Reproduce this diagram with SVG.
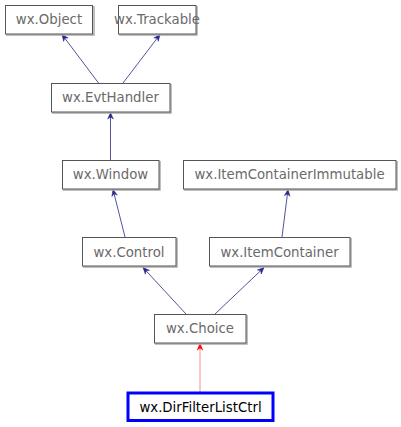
<svg xmlns="http://www.w3.org/2000/svg" width="401" height="427" viewBox="0 0 401 427">
<style>
.box{fill:#fff;stroke:#555;stroke-width:1}
.sh{fill:none;stroke:#aaa;stroke-width:1.5}
.t{font-family:"DejaVu Sans",sans-serif;font-size:13.3px;fill:#6a6a6a;text-anchor:middle}
.e{stroke:#26268c;stroke-width:0.8;fill:none;marker-end:url(#a)}
.r{stroke:#ff8c8c;stroke-width:1;fill:none;marker-end:url(#ar)}
</style>
<defs>
<marker id="a" markerUnits="userSpaceOnUse" markerWidth="10" markerHeight="10" viewBox="0 0 10 10" refX="9" refY="5" orient="auto">
<path d="M2.5,2.2 L9,5 L2.5,7.8 L4.5,5 z" fill="#26268c" stroke="#26268c" stroke-width="0.5"/>
</marker>
<marker id="ar" markerUnits="userSpaceOnUse" markerWidth="10" markerHeight="10" viewBox="0 0 10 10" refX="9" refY="5" orient="auto">
<path d="M2.5,2.2 L9,5 L2.5,7.8 L4.5,5 z" fill="red" stroke="red" stroke-width="0.5"/>
</marker>
</defs>
<g id="edges">
<line class="e" x1="98.5" y1="83" x2="62" y2="34.5"/>
<line class="e" x1="123" y1="83" x2="160" y2="34.5"/>
<line class="e" x1="110.5" y1="160" x2="110.5" y2="112.5"/>
<line class="e" x1="125" y1="237" x2="113" y2="189.5"/>
<line class="e" x1="282" y1="237" x2="288" y2="189.5"/>
<line class="e" x1="186" y1="314" x2="143" y2="267.5"/>
<line class="e" x1="215" y1="314" x2="264" y2="267.5"/>
<line class="r" x1="200" y1="392" x2="200" y2="343.5"/>
</g>
<g id="n-object">
<polyline class="sh" points="94,6 94,35 6,35"/>
<rect class="box" x="5.5" y="5.5" width="87" height="28.5"/>
<text class="t" x="49" y="24.3">wx.Object</text>
</g>
<g id="n-trackable">
<polyline class="sh" points="197,6 197,35 119,35"/>
<rect class="box" x="118.5" y="5.5" width="77.5" height="28.5"/>
<text class="t" x="157" y="24.3">wx.Trackable</text>
</g>
<g id="n-evthandler">
<polyline class="sh" points="171,84 171,113 52,113"/>
<rect class="box" x="51.5" y="83.5" width="118.5" height="28.5"/>
<text class="t" x="110.5" y="102.3">wx.EvtHandler</text>
</g>
<g id="n-window">
<polyline class="sh" points="160,161 160,190 63,190"/>
<rect class="box" x="62.5" y="160.5" width="96.5" height="28.5"/>
<text class="t" x="110.5" y="179.3">wx.Window</text>
</g>
<g id="n-immutable">
<polyline class="sh" points="397,161 397,190 184,190"/>
<rect class="box" x="183.5" y="160.5" width="212.5" height="28.5"/>
<text class="t" x="289.5" y="179.3">wx.ItemContainerImmutable</text>
</g>
<g id="n-control">
<polyline class="sh" points="177,238 177,267 83,267"/>
<rect class="box" x="82.5" y="237.5" width="93.5" height="28.5"/>
<text class="t" x="129" y="256.8">wx.Control</text>
</g>
<g id="n-itemcontainer">
<polyline class="sh" points="351,238 351,267 210,267"/>
<rect class="box" x="209.5" y="237.5" width="140.5" height="28.5"/>
<text class="t" x="279.5" y="256.8">wx.ItemContainer</text>
</g>
<g id="n-choice">
<polyline class="sh" points="247,315 247,344 155,344"/>
<rect class="box" x="154.5" y="314.5" width="91.5" height="28.5"/>
<text class="t" x="200" y="333.3">wx.Choice</text>
</g>
<g id="n-dirfilter">
<rect x="128" y="393" width="145" height="27.5" fill="#fff" stroke="#0000ff" stroke-width="3"/>
<text class="t" x="200.5" y="411.8" style="fill:#000">wx.DirFilterListCtrl</text>
</g>
</svg>
